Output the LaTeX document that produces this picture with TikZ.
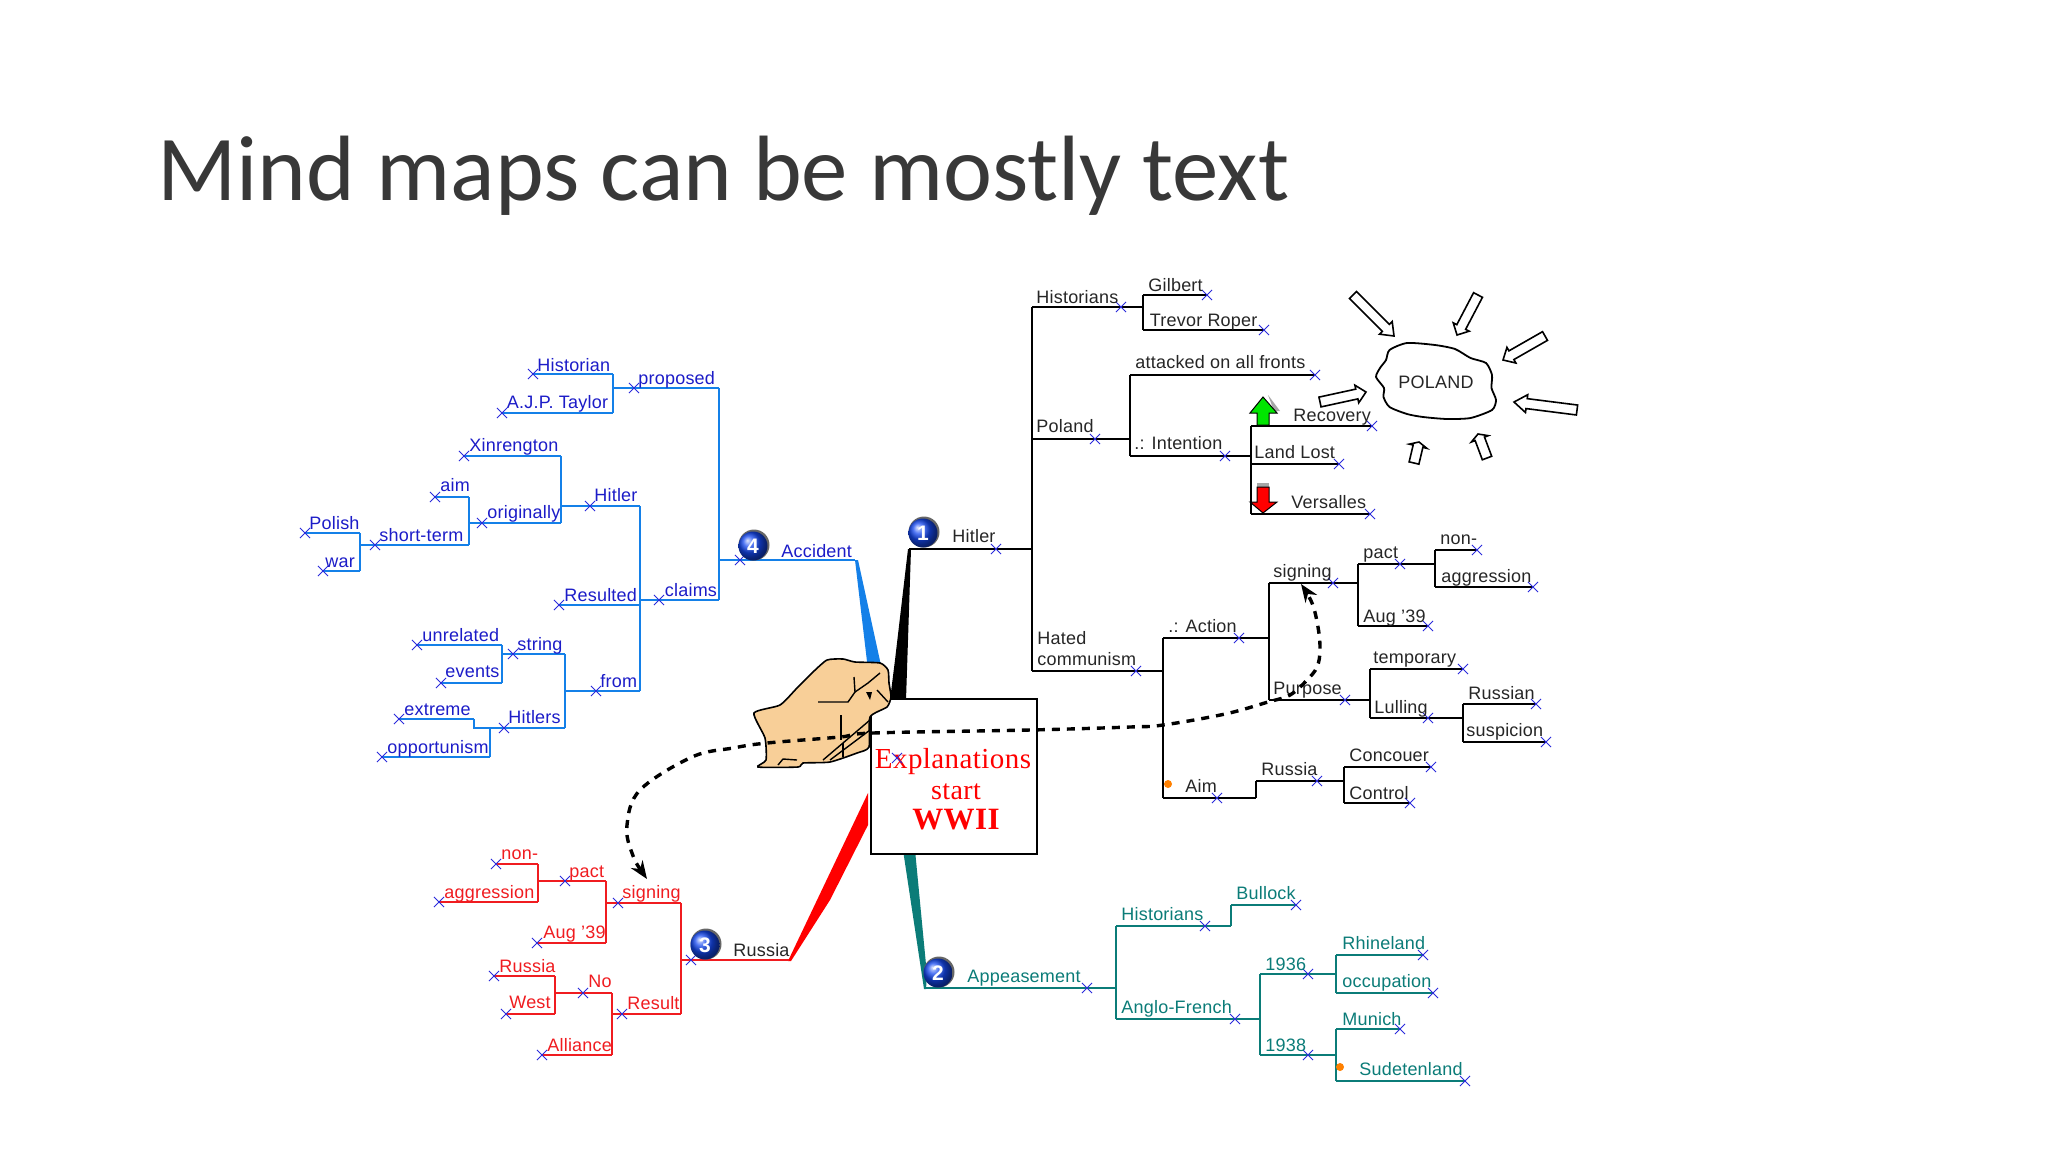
\documentclass[tikz,border=0pt]{standalone}
\usepackage{fontspec}
\setmainfont[LetterSpace=1.2]{Liberation Sans}
\newfontfamily\titlefont{Carlito}
\newfontfamily\boxfont[LetterSpace=1.5]{Liberation Serif}
\usetikzlibrary{calc,arrows.meta,shapes.misc}
\definecolor{cBline}{HTML}{1480E8}
\definecolor{cBtext}{HTML}{1C1CC8}
\definecolor{cRline}{HTML}{F01C20}
\definecolor{cRfill}{HTML}{FF0000}
\definecolor{cTline}{HTML}{0B7C78}
\definecolor{cX}{HTML}{2A2ADC}
\definecolor{cHand}{HTML}{F8CF98}
\definecolor{cBall}{HTML}{1548F0}
\tikzset{
  lineB/.style={draw=cBline,line width=0.85pt},
  lineK/.style={draw=black,line width=0.85pt},
  lineR/.style={draw=cRline,line width=0.85pt},
  lineT/.style={draw=cTline,line width=0.85pt},
  textB/.style={text=cBtext},
  textK/.style={text=black!85},
  textR/.style={text=cRline},
  textT/.style={text=cTline},
  lab/.style={anchor=base west,inner sep=0pt,font=\fontsize{9}{10}\selectfont},
  xmark/.style={cross out,draw=cX,line width=0.45pt,minimum size=4.6pt,inner sep=0pt},
  bubble/.style={circle,minimum size=14.5pt,inner sep=0pt,ball color=cBall,text=white,font=\fontsize{10.5}{10}\bfseries\selectfont},
  bubrim/.style={circle,minimum size=15.5pt,inner sep=0pt,fill=black!60},
  hollow/.style={draw=black,line width=0.8pt,fill=white,line join=miter},
  dashcurve/.style={black,line width=1.7pt,dash pattern=on 4pt off 3.5pt},
  boxtext/.style={text=cRfill,inner sep=0pt,anchor=base},
  handline/.style={black,line width=0.7pt},
}
% name, style letter, x of end a, x of end b, y, x of cross, label x, label baseline, label
\newcommand\br[9]{%
  \coordinate (#1-a) at (#3,#5);
  \coordinate (#1-b) at (#4,#5);
  \draw[line#2] (#1-a) -- (#1-b);
  \node[xmark] (#1-x) at (#6,#5) {};
  \node[lab,text#2] (#1) at (#7,#8) {#9};
}
\newcommand\hollowarr[2]{%
  \draw[hollow] ($(#1)!2.5pt!90:(#2)$) -- ($(#1)!.8!(#2)!2.5pt!90:(#2)$) -- ($(#1)!.8!(#2)!4.5pt!90:(#2)$)
    -- (#2) -- ($(#1)!.8!(#2)!4.5pt!-90:(#2)$) -- ($(#1)!.8!(#2)!2.5pt!-90:(#2)$) -- ($(#1)!2.5pt!-90:(#2)$) -- cycle;
}
\begin{document}
\begin{tikzpicture}[x=0.5pt,y=-0.5pt]
\useasboundingbox[fill=white] (0,0) rectangle (2048,1152);
\node[anchor=base west,inner sep=0pt,text=black!78,font=\titlefont\fontsize{46.4}{50}\selectfont] (title) at (157,200) {Mind maps can be mostly text};

% main limbs
\fill[cBline] (855,560) -- (858,560) -- (882,670) -- (868,670) -- cycle;
\fill[black] (908,549) -- (911,549) -- (906,700) -- (890,700) -- (895,660) -- cycle;
\fill[cRfill] (788,961) -- (868,793) -- (868,825) -- (830,900) -- (791,961) -- cycle;
\fill[cTline] (903,850) -- (915,850) -- (927,975) -- (926,989) -- (924,989) -- cycle;

% central box
\node[draw=black,line width=0.9pt,fill=white,inner sep=0pt,anchor=north west,minimum width=83pt,minimum height=77.5pt] (centre) at (870,698) {};
\node[boxtext,font=\boxfont\fontsize{14.5}{16}\selectfont] (expl) at (953,768) {Explanations};
\node[boxtext,font=\boxfont\fontsize{14}{16}\selectfont] (start) at (956,799) {start};
\node[boxtext,font=\boxfont\bfseries\fontsize{15.5}{16}\selectfont] (wwii) at (956,829) {WWII};
\node[xmark] (centre-x) at (897,758) {};

% hand
\draw[black,line width=0.8pt,fill=cHand] plot[smooth cycle,tension=0.35] coordinates {
 (827,660) (843,659) (855,662) (880,663) (888,670) (889,683) (891,697) (887,707) (870,717) (869,747)
 (857,753) (830,762) (803,763) (798,767) (758,767) (766,760) (765,738) (754,713) (780,705) (797,688) (813,672)};
\draw[handline] (818,702) -- (848,702) -- (855,692) -- (854,677);
\draw[handline] (855,692) -- (868,683) -- (880,673);
\fill[black] (866,692) -- (872,692) -- (870,700) -- cycle;
\draw[handline] (877,690) -- (888,702);
\draw[handline] (841,715) -- (841,740);
\draw[handline] (823,760) -- (870,720);
\draw[handline] (830,760) -- (870,730);
\draw[handline] (843,743) -- (843,757);
\draw[handline] (778,765) -- (783,759) -- (797,760);

% branch 4: blue
\br{accident}{B}{719}{855}{560}{740}{781}{557}{Accident}
\br{proposed}{B}{613}{719}{388}{634}{638}{384}{proposed}
\br{claims}{B}{640}{719}{600}{659}{664.5}{596}{claims}
\draw[lineB] (proposed-b) -- (claims-b);
\br{historian}{B}{533}{613}{374}{533}{537}{371}{Historian}
\br{taylor}{B}{502}{613}{413}{502}{506.5}{408}{A.J.P. Taylor}
\draw[lineB] (historian-b) -- (taylor-b);
\br{hitlerb}{B}{561}{640}{506}{590}{594}{501}{Hitler}
\br{resulted}{B}{559}{640}{605}{559}{564}{601}{Resulted}
\br{fromb}{B}{565}{640}{691}{596}{600}{687}{from}
\draw[lineB] (hitlerb-b) -- (fromb-b);
\br{xin}{B}{464}{561}{456}{464}{469}{451}{Xinrengton}
\br{orig}{B}{469}{561}{523}{482}{487}{518}{originally}
\draw[lineB] (xin-b) -- (orig-b);
\br{aimb}{B}{435}{469}{497}{435}{440}{491}{aim}
\br{short}{B}{360}{469}{545}{375}{379}{541}{short-term}
\draw[lineB] (aimb-b) -- (short-b);
\br{polish}{B}{305}{360}{533}{305}{309}{529}{Polish}
\br{war}{B}{323}{360}{571}{323}{325}{567}{war}
\draw[lineB] (polish-b) -- (war-b);
\br{string}{B}{502}{565}{654}{513}{517}{650}{string}
\br{hitlers}{B}{490}{565}{728}{504}{508}{723}{Hitlers}
\draw[lineB] (string-b) -- (hitlers-b);
\br{unrelated}{B}{417}{502}{645}{417}{422}{641}{unrelated}
\br{events}{B}{441}{502}{683}{441}{445}{677}{events}
\draw[lineB] (unrelated-b) -- (events-b);
\br{extreme}{B}{399}{474}{719}{399}{404}{715}{extreme}
\draw[lineB] (extreme-b) |- (hitlers-a);
\br{opportunism}{B}{382}{490}{757}{382}{387}{753}{opportunism}
\draw[lineB] (hitlers-a) -- (opportunism-b);

% branch 1: black
\br{hitlerk}{K}{909}{1032}{549}{996}{952}{542}{Hitler}
\br{hist}{K}{1032}{1143}{307}{1121}{1036}{303}{Historians}
\br{poland}{K}{1032}{1130}{439}{1095}{1036}{432}{Poland}
\br{hated}{K}{1032}{1163}{671}{1136}{1037}{665}{communism}
\node[lab,textK] (hated2) at (1037,644) {Hated};
\draw[lineK] (hist-a) -- (hated-a);
\br{gilbert}{K}{1143}{1207}{295}{1207}{1148}{291}{Gilbert}
\br{trevor}{K}{1143}{1264}{330}{1264}{1149.5}{326}{Trevor Roper}
\draw[lineK] (gilbert-a) -- (trevor-a);
\br{attacked}{K}{1130}{1315}{375}{1315}{1135}{368}{attacked on all fronts}
\br{intention}{K}{1130}{1251}{456}{1225}{1134}{449}{.: Intention}
\draw[lineK] (attacked-a) -- (intention-a);
\br{recovery}{K}{1251}{1372}{426}{1372}{1293}{421}{Recovery}
\br{landlost}{K}{1251}{1339}{464}{1339}{1254}{458}{Land Lost}
\br{versalles}{K}{1251}{1370}{514}{1370}{1291}{508}{Versalles}
\draw[lineK] (recovery-a) -- (versalles-a);
\br{action}{K}{1163}{1269}{638}{1239}{1168}{632}{.: Action}
\br{aimk}{K}{1163}{1256}{798}{1217}{1185}{792}{Aim}
\draw[lineK] (action-a) -- (aimk-a);
\br{signing}{K}{1269}{1358}{583}{1333}{1273}{577}{signing}
\br{purpose}{K}{1269}{1370}{700}{1345}{1273}{694}{Purpose}
\draw[lineK] (signing-a) -- (purpose-a);
\br{pact}{K}{1358}{1435}{564}{1400}{1363}{558}{pact}
\br{aug}{K}{1358}{1428}{626}{1428}{1363}{622}{Aug '39}
\draw[lineK] (pact-a) -- (aug-a);
\br{non}{K}{1435}{1477}{550}{1477}{1440}{544}{non-}
\br{aggr}{K}{1435}{1533}{587}{1533}{1441}{582}{aggression}
\draw[lineK] (non-a) -- (aggr-a);
\br{temporary}{K}{1370}{1463}{669}{1463}{1373}{663}{temporary}
\br{lulling}{K}{1370}{1463}{718}{1428}{1374}{713}{Lulling}
\draw[lineK] (temporary-a) -- (lulling-a);
\br{russian}{K}{1463}{1536}{704}{1536}{1468}{699}{Russian}
\br{suspicion}{K}{1463}{1546}{742}{1546}{1466}{736}{suspicion}
\draw[lineK] (russian-a) -- (suspicion-a);
\br{russiak}{K}{1256}{1344}{781}{1317}{1261}{775}{Russia}
\draw[lineK] (aimk-b) -- (russiak-a);
\br{concouer}{K}{1344}{1431}{767}{1431}{1349}{761}{Concouer}
\br{control}{K}{1344}{1410}{803}{1410}{1349}{799}{Control}
\draw[lineK] (concouer-a) -- (control-a);

% arrows up and down
\fill[black!35] (1268,395) -- (1280,411) -- (1274,411) -- cycle;
\draw[black,line width=0.5pt,fill=green!90!black] (1263,397) -- (1277,413) -- (1269,413) -- (1269,425) -- (1257,425) -- (1257,413) -- (1250,413) -- cycle;
\fill[black!35] (1257,483) rectangle (1269,488);
\draw[black,line width=0.5pt,fill=cRfill] (1263,513) -- (1277,502) -- (1269,502) -- (1269,487) -- (1257,487) -- (1257,502) -- (1250,502) -- cycle;
\fill[orange] (1168,784) circle[radius=4];

% Poland cloud
\draw[black,line width=0.9pt] plot[smooth cycle,tension=0.4] coordinates {
 (1376,377) (1380,368) (1386,360) (1389.5,350) (1407,343) (1435,345) (1455,349) (1470.5,358) (1486,363) (1492,375) (1491.5,388) (1496,400) (1492,410)
 (1470.5,418) (1447,419) (1423,417) (1407,414) (1389.5,407) (1383.5,397) (1384,388)};
\node[anchor=center,inner sep=0pt,text=black!85,font=\fontsize{9}{10}\selectfont] (polandc) at (1436,382) {POLAND};
\coordinate (aa1) at (1353,295); \coordinate (ab1) at (1394,336);
\coordinate (aa2) at (1478,295); \coordinate (ab2) at (1457,335);
\coordinate (aa3) at (1545,336); \coordinate (ab3) at (1503,360);
\coordinate (aa4) at (1577,410); \coordinate (ab4) at (1514,402);
\coordinate (aa5) at (1487,458); \coordinate (ab5) at (1478,434);
\coordinate (aa6) at (1414,463); \coordinate (ab6) at (1419,442);
\coordinate (aa7) at (1320,402); \coordinate (ab7) at (1366,392);
\hollowarr{aa1}{ab1}\hollowarr{aa2}{ab2}\hollowarr{aa3}{ab3}\hollowarr{aa4}{ab4}
\hollowarr{aa5}{ab5}\hollowarr{aa6}{ab6}\hollowarr{aa7}{ab7}

% branch 3: red
\br{russiar}{R}{681}{789}{960}{691}{733}{956}{\textcolor{black!85}{Russia}}
\br{signingr}{R}{606}{681}{903}{618}{622}{898}{signing}
\br{result}{R}{612}{681}{1014}{622}{627}{1009}{Result}
\draw[lineR] (signingr-b) -- (result-b);
\br{pactr}{R}{538}{606}{881}{565}{569}{877}{pact}
\br{augr}{R}{537}{606}{943}{537}{543}{938}{Aug '39}
\draw[lineR] (pactr-b) -- (augr-b);
\br{nonr}{R}{496}{538}{864}{496}{501}{859}{non-}
\br{aggrr}{R}{439}{538}{902}{439}{444}{898}{aggression}
\draw[lineR] (nonr-b) -- (aggrr-b);
\br{nor}{R}{555}{612}{993}{583}{588}{987}{No}
\br{alliance}{R}{542}{612}{1055}{542}{547}{1051}{Alliance}
\draw[lineR] (nor-b) -- (alliance-b);
\br{russiar2}{R}{494}{555}{976}{494}{499}{972}{Russia}
\br{west}{R}{506}{555}{1014}{506}{509}{1008}{West}
\draw[lineR] (russiar2-b) -- (west-b);

% branch 2: teal
\br{appeasement}{T}{925}{1116}{988}{1087}{967}{982}{Appeasement}
\br{histt}{T}{1116}{1231}{926}{1205}{1121}{920}{Historians}
\br{anglo}{T}{1116}{1260}{1019}{1235}{1121}{1013}{Anglo-French}
\draw[lineT] (histt-a) -- (anglo-a);
\br{bullock}{T}{1231}{1296}{905}{1296}{1236}{899}{Bullock}
\draw[lineT] (histt-b) -- (bullock-a);
\br{yxxxvi}{T}{1260}{1336}{974}{1308}{1265}{970}{1936}
\br{yxxxviii}{T}{1260}{1336}{1055}{1308}{1265}{1051}{1938}
\draw[lineT] (yxxxvi-a) -- (yxxxviii-a);
\br{rhine}{T}{1336}{1423}{955}{1423}{1342}{949}{Rhineland}
\br{occ}{T}{1336}{1433}{993}{1433}{1342}{987}{occupation}
\draw[lineT] (rhine-a) -- (occ-a);
\br{munich}{T}{1336}{1400}{1029}{1400}{1342}{1025}{Munich}
\br{sudet}{T}{1336}{1465}{1081}{1465}{1359}{1075}{Sudetenland}
\draw[lineT] (munich-a) -- (sudet-a);
\fill[orange] (1340,1067) circle[radius=4];

% numbered bubbles
\node[bubrim] (rim1) at (924,532) {};
\node[bubble] (b1) at (923,533) {1};
\node[bubrim] (rim2) at (939,972) {};
\node[bubble] (b2) at (938,973) {2};
\node[bubrim] (rim3) at (706,944) {};
\node[bubble] (b3) at (705,945) {3};
\node[bubrim] (rim4) at (754,545) {};
\node[bubble] (b4) at (753,546) {4};

% dashed link with arrows at both ends
\coordinate (dashA) at (647,879);
\coordinate (dashB) at (1301,584);
\draw[dashcurve,{Stealth[length=9pt,width=7pt]}-{Stealth[length=9pt,width=7pt]}] plot[smooth,tension=0.6] coordinates {
 (dashA) (632,853) (627,825) (640,790) (692,757) (733,748) (767,743) (840,737) (873,733) (1030,730) (1130,727) (1163,725) (1225,714) (1268,702) (1290,695) (1307,680) (1317,667) (1320,650) (1318,627) (1312,603) (dashB)};
\end{tikzpicture}
\end{document}
